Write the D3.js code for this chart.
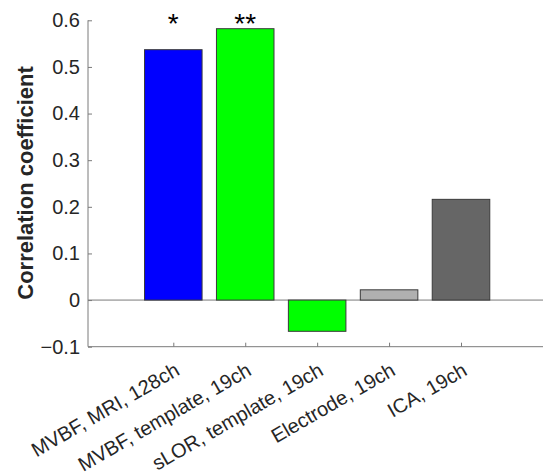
<!DOCTYPE html>
<html>
<head>
<meta charset="utf-8">
<script src="https://cdn.jsdelivr.net/npm/d3@7/dist/d3.min.js"></script>
<style>
  html, body { margin: 0; padding: 0; background: #fff; }
  svg { display: block; }
  text { font-family: "Liberation Sans", Arial, sans-serif; }
</style>
</head>
<body>
<div id="chart"></div>
<script>
const categories = ["MVBF, MRI, 128ch", "MVBF, template, 19ch", "sLOR, template, 19ch", "Electrode, 19ch", "ICA, 19ch"];
const values = [0.537, 0.582, -0.067, 0.022, 0.216];
const barColors = ["#0000ff", "#00ff00", "#00ff00", "#b0b0b0", "#666666"];
const stars = ["*", "**", "", "", ""];
const yTicks = [-0.1, 0, 0.1, 0.2, 0.3, 0.4, 0.5, 0.6];
const yLabel = "Correlation coefficient";

const W = 543, H = 476;
const svg = d3.select("#chart").append("svg").attr("width", W).attr("height", H);

const axisLeft = 88, axisRight = 543;
const x = d3.scaleLinear().domain([1, 5]).range([173.3, 461]);
const y = d3.scaleLinear().domain([-0.1, 0.6]).range([346.7, 20.3]);
const barW = (x(2) - x(1)) * 0.8;
const axisColor = "#7a7a7a";
const textColor = "#262626";

// zero line
svg.append("line")
  .attr("x1", axisLeft).attr("x2", axisRight)
  .attr("y1", y(0)).attr("y2", y(0))
  .attr("stroke", axisColor).attr("stroke-width", 1);

// bars
svg.selectAll("rect.bar").data(values).enter().append("rect")
  .attr("class", "bar")
  .attr("x", (d, i) => x(i + 1) - barW / 2)
  .attr("width", barW)
  .attr("y", d => y(Math.max(0, d)))
  .attr("height", d => Math.abs(y(d) - y(0)))
  .attr("fill", (d, i) => barColors[i])
  .attr("stroke", "#3a3a3a").attr("stroke-width", 1);

// y axis
const yAxis = d3.axisLeft(y).tickValues(yTicks).tickSize(-4).tickPadding(8)
  .tickFormat(d => d === 0 ? "0" : d3.format(".1f")(d));
const gy = svg.append("g").attr("transform", `translate(${axisLeft},0)`).call(yAxis);
gy.select(".domain").attr("stroke", axisColor).attr("d", `M0,${y(0.6)}V${y(-0.1)}`);
gy.selectAll(".tick line").attr("stroke", axisColor);
gy.selectAll(".tick text").attr("fill", textColor).style("font-size", "20px")
  .style("font-family", "'Liberation Sans', Arial, sans-serif");

// x axis
const xAxis = d3.axisBottom(x).tickValues([1, 2, 3, 4, 5]).tickSize(-4).tickFormat("");
const gx = svg.append("g").attr("transform", `translate(0,${y(-0.1)})`).call(xAxis);
gx.select(".domain").attr("stroke", axisColor).attr("d", `M${axisLeft},0H${axisRight}`);
gx.selectAll(".tick line").attr("stroke", axisColor);

// x labels rotated
svg.selectAll("text.xlab").data(categories).enter().append("text")
  .attr("class", "xlab")
  .attr("transform", (d, i) => `translate(${x(i + 1) + 4},${368}) rotate(-30)`)
  .attr("text-anchor", "end")
  .attr("dy", "0.35em")
  .attr("fill", textColor)
  .style("font-size", "20px")
  .text(d => d);

// y label
svg.append("text")
  .attr("transform", `translate(33,183) rotate(-90)`)
  .attr("text-anchor", "middle")
  .attr("fill", textColor)
  .style("font-size", "22px").style("font-weight", "bold")
  .text(yLabel);

// significance stars
svg.selectAll("text.star").data(stars).enter().append("text")
  .attr("class", "star")
  .attr("x", (d, i) => x(i + 1))
  .attr("y", 33)
  .attr("text-anchor", "middle")
  .attr("fill", "#000")
  .style("font-size", "28px")
  .text(d => d);
</script>
</body>
</html>
